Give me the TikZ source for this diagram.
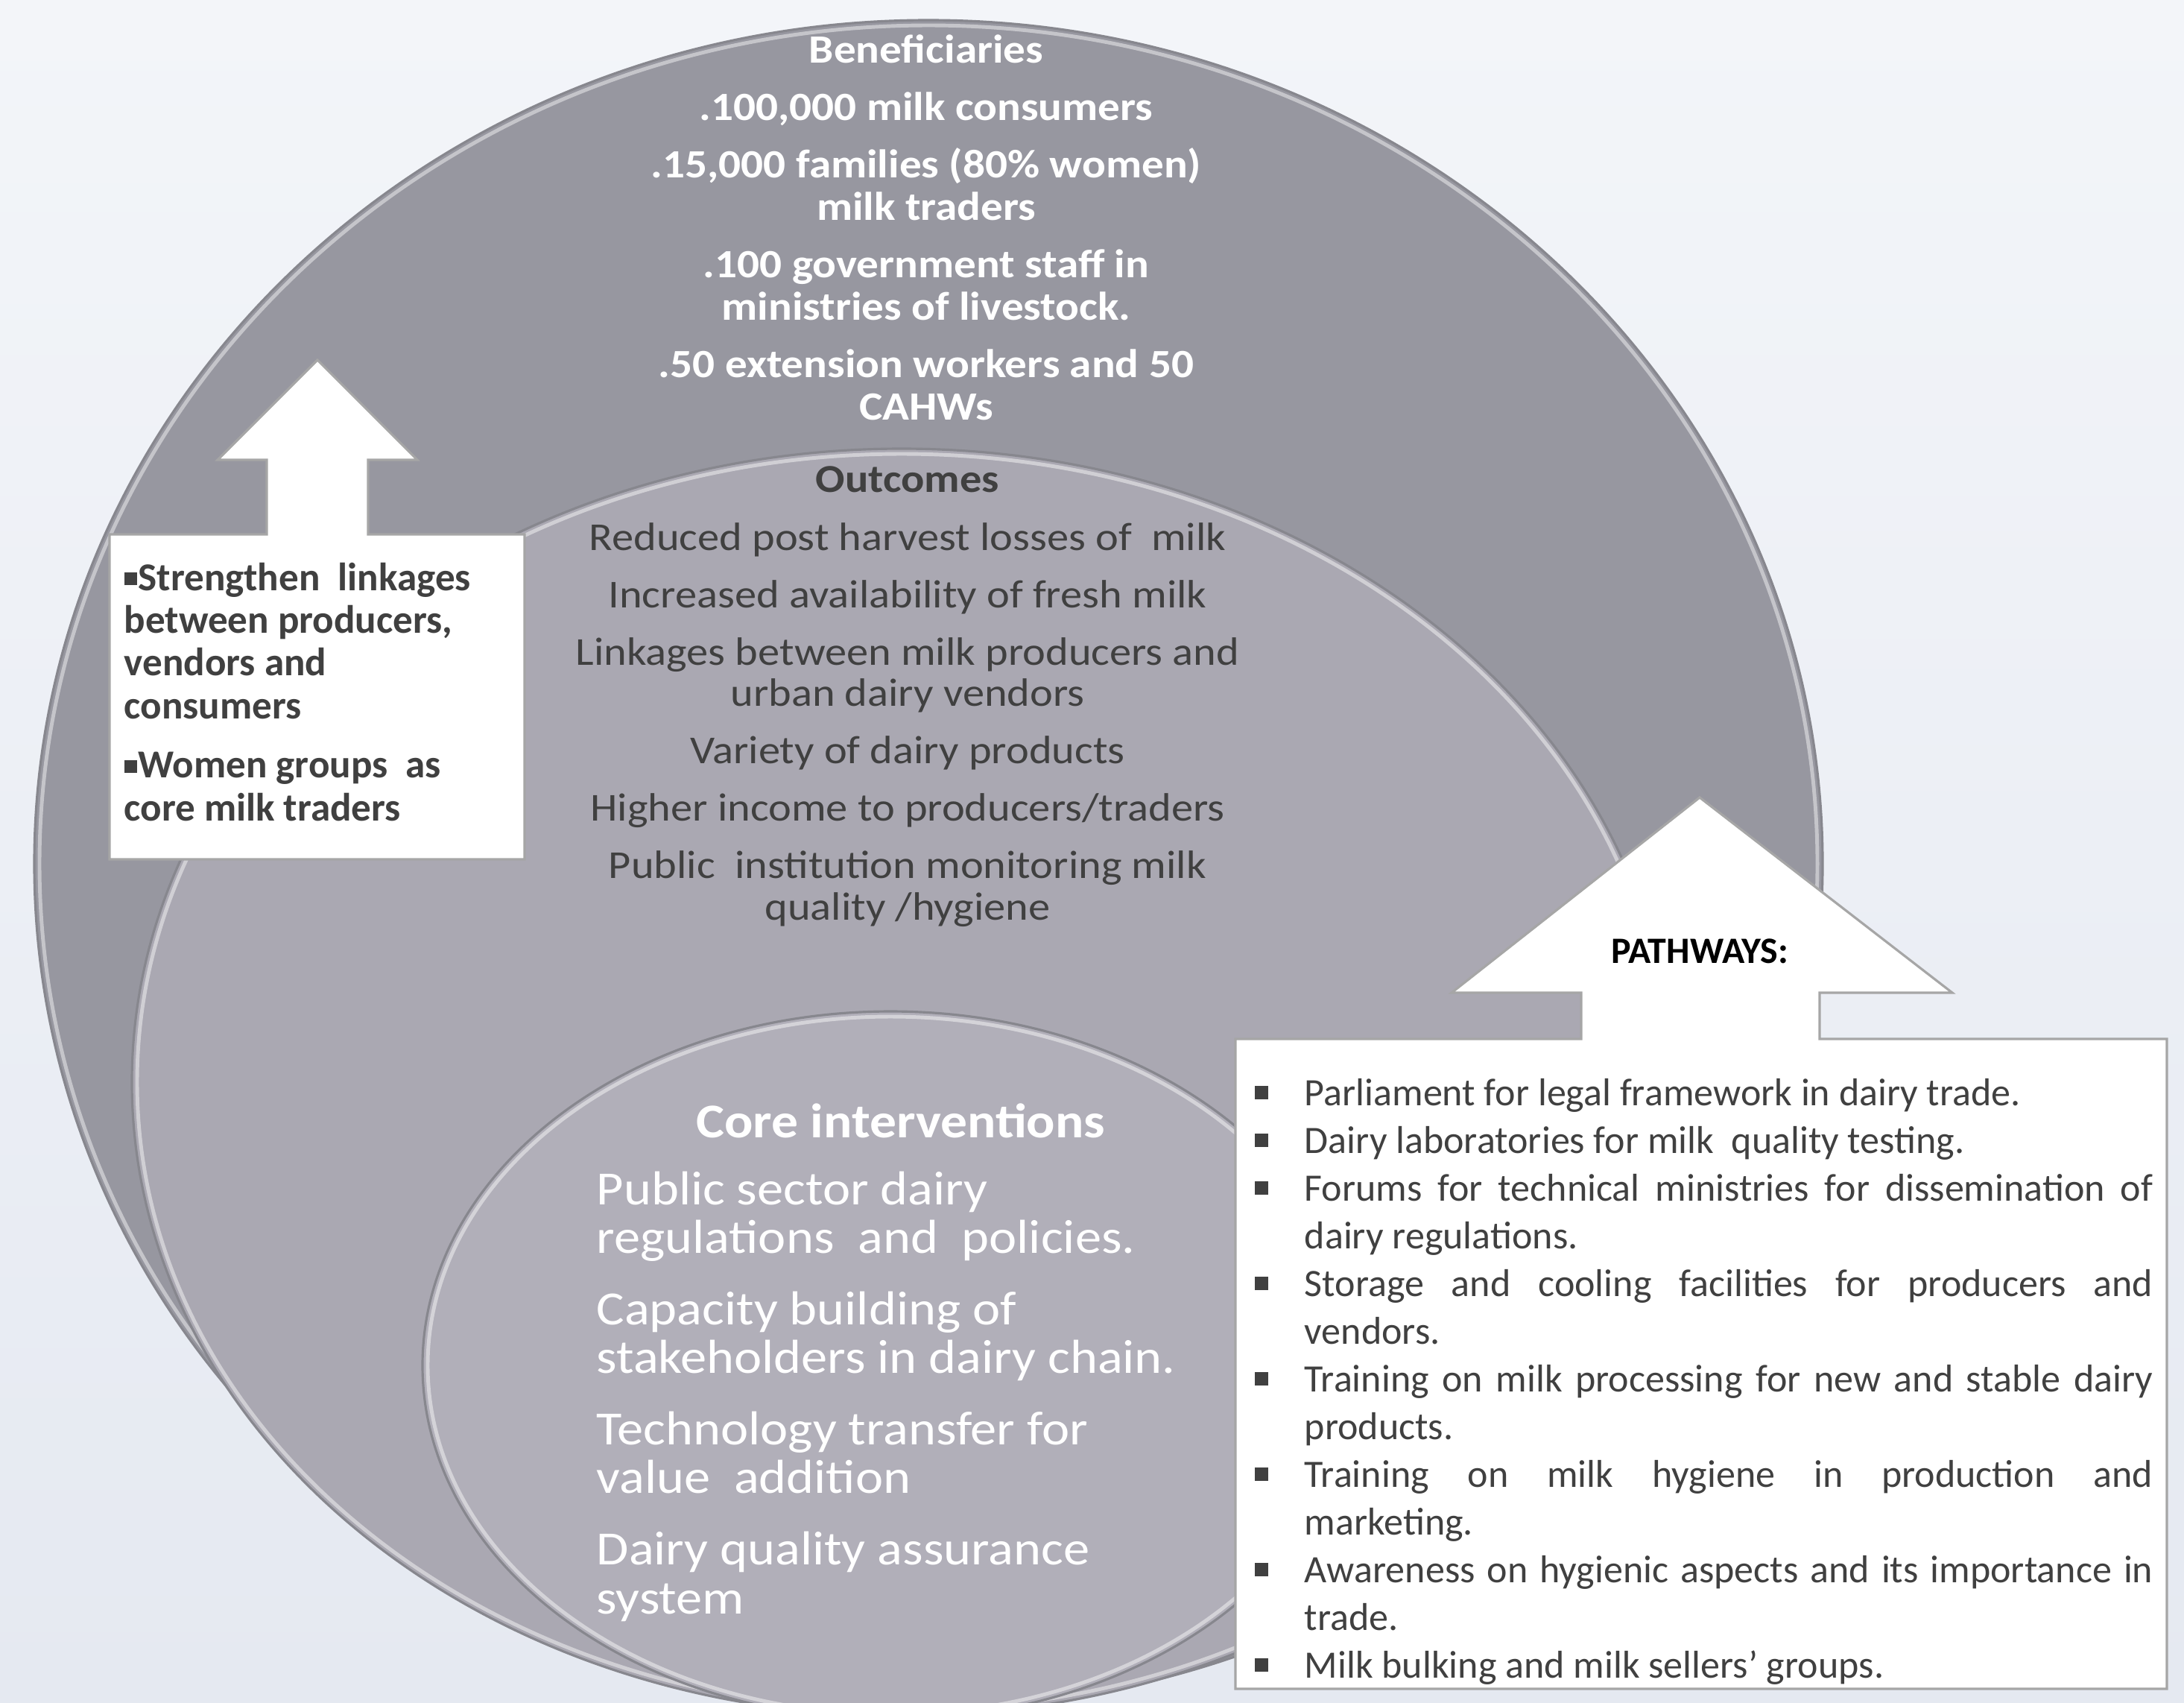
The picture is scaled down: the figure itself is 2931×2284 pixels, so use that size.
\documentclass[tikz,border=0pt]{standalone}
\usepackage{fontspec}
\setmainfont{Carlito}
\newfontfamily\ringfont[FakeStretch=1.1]{Carlito}
\usepackage{xcolor}
\definecolor{bgtop}{RGB}{243,245,249}
\definecolor{bgbot}{RGB}{229,233,241}
\definecolor{outerfill}{RGB}{151,151,160}
\definecolor{midfill}{RGB}{170,168,178}
\definecolor{corefill}{RGB}{177,175,185}
\definecolor{rimgray}{RGB}{135,135,142}
\definecolor{boxline}{RGB}{166,166,166}
\definecolor{inkgray}{RGB}{64,64,64}
\newcommand\lbul{\rule[0.07cm]{0.17cm}{0.17cm}\hspace{0.02cm}}
\newcommand\pbul{\rule[0.08cm]{0.18cm}{0.18cm}}
\newcommand\pitem[1]{\noindent\hangindent=0.67cm\hangafter=1\makebox[0.67cm][l]{\pbul}#1\par}

\begin{document}
\begin{tikzpicture}[x=0.01cm, y=-0.01cm,
  rim/.style={draw=rimgray, line width=0.9pt},
  glint/.style={draw=white, draw opacity=0.45, line width=1.4pt},
  callout/.style={fill=white, draw=boxline, line width=0.9pt},
  ringtext/.style={align=center, anchor=base, inner sep=0pt}]
 \useasboundingbox (0,0) rectangle (2931,2284);
 \shade[top color=bgtop, bottom color=bgbot] (0,0) rectangle (2931,2284);
 \clip (0,0) rectangle (2931,2284);
 \filldraw[fill=outerfill, rim] (1246,1159) ellipse [x radius=1200, y radius=1132];
 \draw[glint] (1246,1159) ellipse [x radius=1193, y radius=1125];
 \filldraw[fill=midfill, rim] (1210,1452) ellipse [x radius=1033, y radius=850];
 \draw[glint] (1210,1452) ellipse [x radius=1026, y radius=843];
 \filldraw[fill=corefill, rim] (1195,1832) ellipse [x radius=628, y radius=475];
 \draw[glint] (1195,1832) ellipse [x radius=621, y radius=468];

 \draw[callout] (147,1153) -- (147,717) -- (358,717) -- (358,617) -- (292,617) -- (426,483)
   -- (560,617) -- (494,617) -- (494,717) -- (704,717) -- (704,1153) -- cycle;
 \draw[callout] (1658,2266) -- (1658,1394) -- (2122,1394) -- (2122,1332) -- (1948,1332) -- (2281,1070)
   -- (2620,1332) -- (2442,1332) -- (2442,1394) -- (2908,1394) -- (2908,2266) -- cycle;

 \node[ringtext, text=white, font=\ringfont\bfseries\fontsize{15.3pt}{16.2pt}\selectfont] (benef) at (1243,563)
  {Beneficiaries\\[5.7pt] .100,000 milk consumers\\[5.7pt] .15,000 families (80\% women)\\ milk traders\\[5.7pt]
   .100 government staff in\\ ministries of livestock.\\[5.7pt] .50 extension workers and 50\\ CAHWs};
 \node[ringtext, text=inkgray, font=\ringfont\fontsize{15.1pt}{15.65pt}\selectfont] (outc) at (1218,1234)
  {\textbf{Outcomes}\\[6.3pt] Reduced post harvest losses of\ \ milk\\[6.3pt] Increased availability of fresh milk\\[6.3pt]
   Linkages between milk producers and\\ urban dairy vendors\\[6.3pt] Variety of dairy products\\[6.3pt]
   Higher income to producers/traders\\[6.3pt] Public\ \ institution monitoring milk\\ quality /hygiene};
 \node[ringtext, text=white, font=\ringfont\bfseries\fontsize{18.5pt}{18.8pt}\selectfont] (corehead) at (1209,1526)
  {Core interventions};
 \node[ringtext, anchor=base west, align=left, text=white, font=\ringfont\fontsize{18.2pt}{18.5pt}\selectfont] (corelist) at (800,2165)
  {Public sector dairy\\ regulations\ \ and\ \ policies.\\[8.8pt] Capacity building of\\ stakeholders in dairy chain.\\[8.8pt]
   Technology transfer for\\ value\ \ addition\\[8.8pt] Dairy quality assurance\\ system};

 \node[anchor=base west, align=left, inner sep=0pt, text=inkgray, font=\bfseries\fontsize{15.1pt}{16.3pt}\selectfont] (linkbox) at (166,1101)
  {\lbul Strengthen\ \ linkages\\ between producers,\\ vendors and\\ consumers\\[6.3pt] \lbul Women groups\ \ as\\ core milk traders};

 \node[anchor=base, inner sep=0pt, font=\bfseries\fontsize{14.2pt}{17pt}\selectfont] (pathhead) at (2281,1292) {PATHWAYS:};
 \node[anchor=base west, inner sep=0pt, text width=12.05cm, align=justify, text=inkgray,
   font=\fontsize{14.8pt}{18.2pt}\selectfont] (pathlist) at (1683,1483)
  {\pitem{Parliament for legal framework in dairy trade.}
   \pitem{Dairy laboratories for milk\ \ quality testing.}
   \pitem{Forums for technical ministries for dissemination of\linebreak dairy regulations.}
   \pitem{Storage and cooling facilities for producers and\linebreak vendors.}
   \pitem{Training on milk processing for new and stable dairy\linebreak products.}
   \pitem{Training on milk hygiene in production and\linebreak marketing.}
   \pitem{Awareness on hygienic aspects and its importance in\linebreak trade.}
   \pitem{Milk bulking and milk sellers’ groups.}};
\end{tikzpicture}
\end{document}
